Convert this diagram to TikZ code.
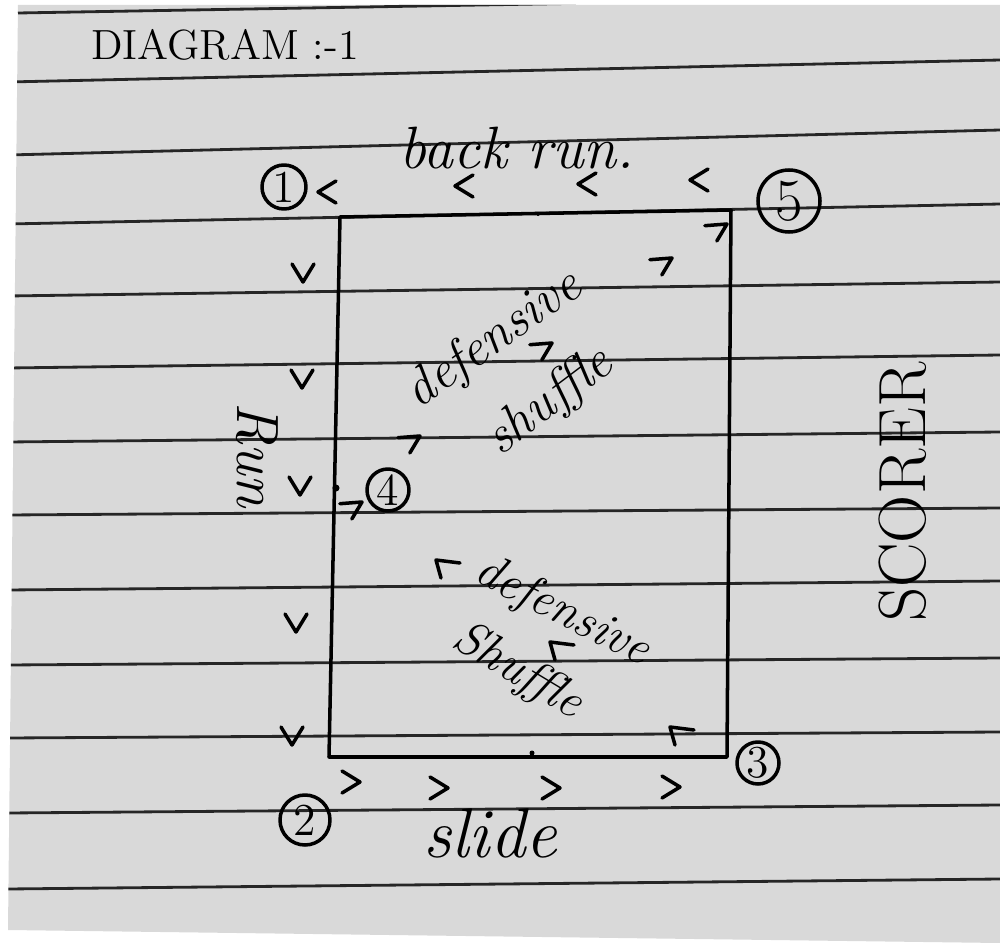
\documentclass[tikz,border=0pt]{standalone}
\usepackage{tikz}

\begin{document}
\begin{tikzpicture}[x=0.1mm, y=-0.1mm,
  pen/.style={line width=1pt, line cap=round, line join=round},
  ruling/.style={line width=0.8pt, black!85},
  num/.style={draw, pen, circle, inner sep=0pt, minimum size=4.4mm, font=\fontsize{13}{13}\selectfont},
  hand/.style={font=\fontsize{17}{17}\selectfont\itshape},
  chev/.pic={\draw[pen] (-18,-11) -- (0,0) -- (-18,11);},
  hookr/.pic={\draw[pen] (-26,2) -- (0,0) -- (-12,20);},
  hookl/.pic={\draw[pen] (24,3) -- (0,0) -- (5,18);}]

% Paper
\useasboundingbox (0,0) rectangle (1000,943);
\fill[white] (0,0) rectangle (1000,943);
\fill[gray!30] (18,5) -- (1000,5) -- (1000,943) -- (8,930) -- cycle;

% Ruled lines
\begin{scope}
\clip (18,5) -- (1000,5) -- (1000,943) -- (8,930) -- cycle;
\draw[ruling] (18,13) -- (1000,-4);
\foreach \yl/\yr in {82/60, 155/130, 224/204, 296/282, 368/355, 442/432,
                     515/508, 590/581, 665/658, 738/732, 813/805, 889/879}
  \draw[ruling] (8,\yl) -- (1000,\yr);
\end{scope}

% Title
\node[font=\fontsize{12}{12}\selectfont, anchor=base] (title) at (225,60) {DIAGRAM :-1};

% Court
\coordinate (tl) at (340,217);
\coordinate (tr) at (731,210);
\coordinate (br) at (727,757);
\coordinate (bl) at (329,757);
\draw[pen] (tl) -- (tr) -- (br) -- (bl) -- cycle;
\fill (336,488) circle (3.5);
\fill (532,753) circle (2.5);
\fill (538,214) circle (2);

% Players
\node[num] (n1) at (284,187) {1};
\node[num, minimum size=6.2mm, font=\fontsize{17}{17}\selectfont] (n5) at (789,201) {5};
\node[num, minimum size=4.2mm] (n4) at (388,490) {4};
\node[num, minimum size=4.2mm] (n3) at (758,763) {3};
\node[num, minimum size=5mm] (n2) at (305,820) {2};

% Movement marks
\foreach \x/\y in {318/192, 455/186, 578/184, 690/180}
  \pic[rotate=180] at (\x,\y) {chev};
\foreach \x/\y in {303/282, 302/388, 300/495, 296/632, 292/745}
  \pic[rotate=-90] at (\x,\y) {chev};
\foreach \x/\y in {360/782, 448/788, 560/788, 680/787}
  \pic at (\x,\y) {chev};
\foreach \x/\y in {362/502, 420/436, 552/343, 672/258, 727/224}
  \pic[scale=0.85] at (\x,\y) {hookr};
\foreach \x/\y in {436/560, 550/642, 670/727}
  \pic at (\x,\y) {hookl};

% Labels
\node[hand, anchor=base] (back) at (517,168) {back run.};
\node[hand, font=\fontsize{20}{20}\selectfont\itshape, anchor=base] (slide) at (490,857) {slide};
\node[hand, rotate=-90] (run) at (257,455) {Run};
\node[font=\fontsize{19}{19}\selectfont, rotate=90] (scorer) at (903,492) {SCORER};
\node[hand, font=\fontsize{15}{15}\selectfont\itshape, rotate=35] (def1) at (494,340) {defensive};
\node[hand, font=\fontsize{15}{15}\selectfont\itshape, rotate=37] (shuf1) at (550,402) {shuffle};
\node[hand, font=\fontsize{14}{14}\selectfont\itshape, rotate=-27] (def2) at (562,612) {defensive};
\node[hand, font=\fontsize{14}{14}\selectfont\itshape, rotate=-31] (shuf2) at (518,672) {Shuffle};

\end{tikzpicture}
\end{document}
